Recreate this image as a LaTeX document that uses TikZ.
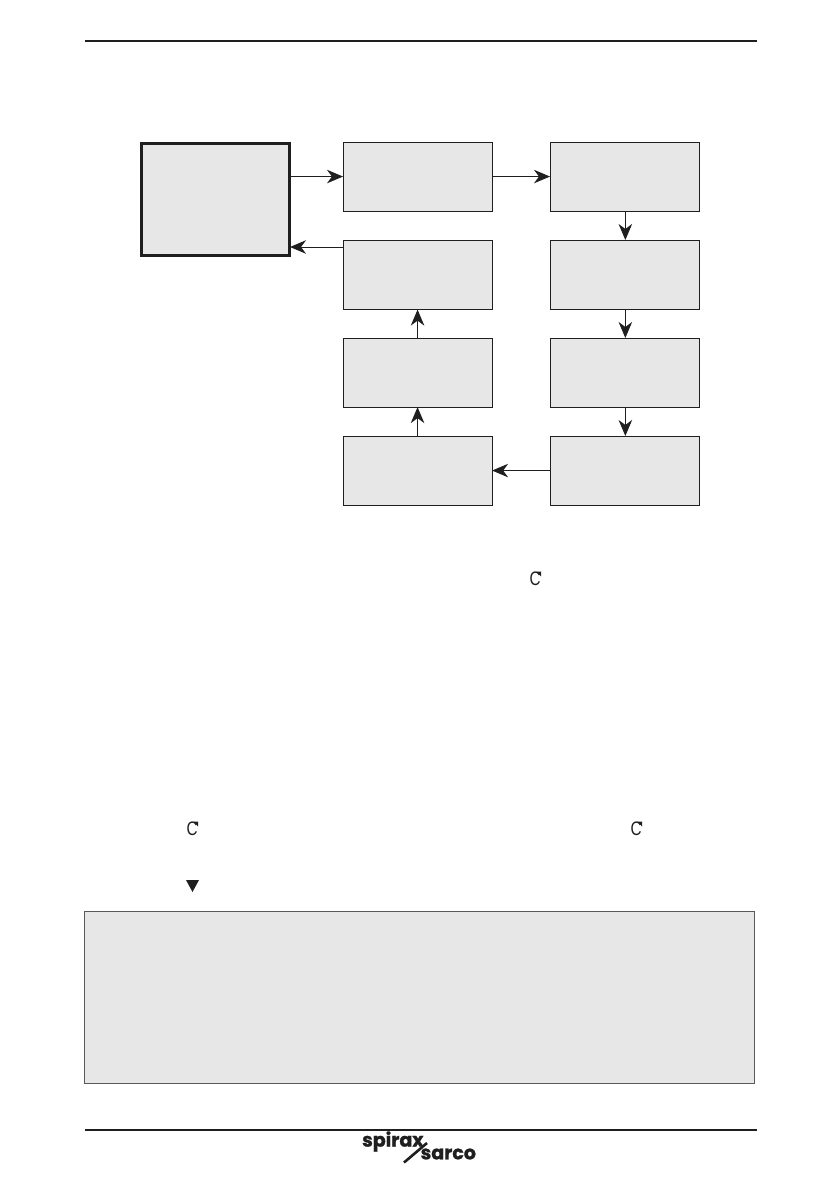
\documentclass[tikz,border=0pt]{standalone}
\usepackage{fontspec}
\setmainfont{Liberation Sans}
\newfontfamily\logofont{Poppins}[BoldFeatures={FakeBold=1.2}]
\usetikzlibrary{arrows.meta,calc}
\definecolor{boxgray}{gray}{0.905}
\definecolor{ink}{gray}{0.12}
\tikzset{
 x=1pt,y=-1pt,
 flowbox/.style={draw=ink,fill=boxgray,line width=1.1pt,inner sep=0pt,anchor=north west},
 flowarrow/.style={draw=ink,line width=1pt,-{Stealth[length=16pt,width=13.5pt,inset=5pt]},shorten >=-0.5pt},
 rule/.style={draw=ink,line width=2pt},
 ccw/.style={font=\fontsize{19.5}{19.5}\selectfont,text=ink,inner sep=0pt,xscale=0.78,transform shape},
 logotext/.style={font=\logofont\bfseries\fontsize{19}{19}\selectfont,text=ink,inner sep=0pt},
}
\begin{document}
\begin{tikzpicture}
\useasboundingbox (0,0) rectangle (839,1191);
\fill[white] (0,0) rectangle (839,1191);
% header and footer rules
\coordinate (topL) at (85,41); \coordinate (topR) at (757,41);
\coordinate (botL) at (85,1130); \coordinate (botR) at (757,1130);
\draw[rule] (topL) -- (topR);
\draw[rule] (botL) -- (botR);
% boxes
\node[flowbox,line width=2.5pt,minimum width=148pt,minimum height=112pt] (main) at (140,142) {};
\node[flowbox,minimum width=149pt,minimum height=69pt] (a) at (342.5,141.5) {};
\node[flowbox,minimum width=149pt,minimum height=69pt] (b) at (549.5,141.5) {};
\node[flowbox,minimum width=149pt,minimum height=69pt] (c) at (549.5,239.5) {};
\node[flowbox,minimum width=149pt,minimum height=69pt] (d) at (549.5,337.5) {};
\node[flowbox,minimum width=149pt,minimum height=69pt] (e) at (549.5,435.5) {};
\node[flowbox,minimum width=149pt,minimum height=69pt] (f) at (342.5,435.5) {};
\node[flowbox,minimum width=149pt,minimum height=69pt] (g) at (342.5,337.5) {};
\node[flowbox,minimum width=149pt,minimum height=69pt] (h) at (342.5,240) {};
% connectors
\draw[flowarrow] (a.west -| main.east) -- (a.west);
\draw[flowarrow] (a.east) -- (b.west);
\draw[flowarrow] ([xshift=0.8pt]b.south) -- ([xshift=0.8pt]c.north);
\draw[flowarrow] ([xshift=0.8pt]c.south) -- ([xshift=0.8pt]d.north);
\draw[flowarrow] ([xshift=0.8pt]d.south) -- ([xshift=0.8pt]e.north);
\draw[flowarrow] (e.west) -- (f.east);
\draw[flowarrow] (f.north) -- (g.south);
\draw[flowarrow] (g.north) -- (h.south);
\coordinate (hback) at ($(h.north west)+(0,7)$);
\draw[flowarrow] (hback) -- (hback -| main.east);
% symbols in the text area
\foreach \n/\px/\py in {c1/535/579, c2/192/829, c3/636/829}{
  \node[ccw] (\n) at (\px,\py) {C};
  \fill[ink] (\px+1.5,\py-7.5) -- (\px+6,\py-7.5) -- (\px+6,\py-2.5) -- cycle;
}
\fill[ink] (186,880) -- (199,880) -- (192.5,892) -- cycle;
% note panel
\node[draw=black!65,fill=boxgray,line width=0.8pt,inner sep=0pt,anchor=north west,minimum width=670pt,minimum height=172pt] (note) at (83.5,910.5) {};
% logo
\node[logotext,anchor=west] (spirax) at (362,1141.5) {spirax};
\node[logotext,anchor=west] (sarco) at (420.5,1154) {sarco};
\coordinate (slashA) at (404,1162.5); \coordinate (slashB) at (427,1143);
\draw[ink,line width=2.6pt] (slashA) -- (slashB);
\end{tikzpicture}
\end{document}
